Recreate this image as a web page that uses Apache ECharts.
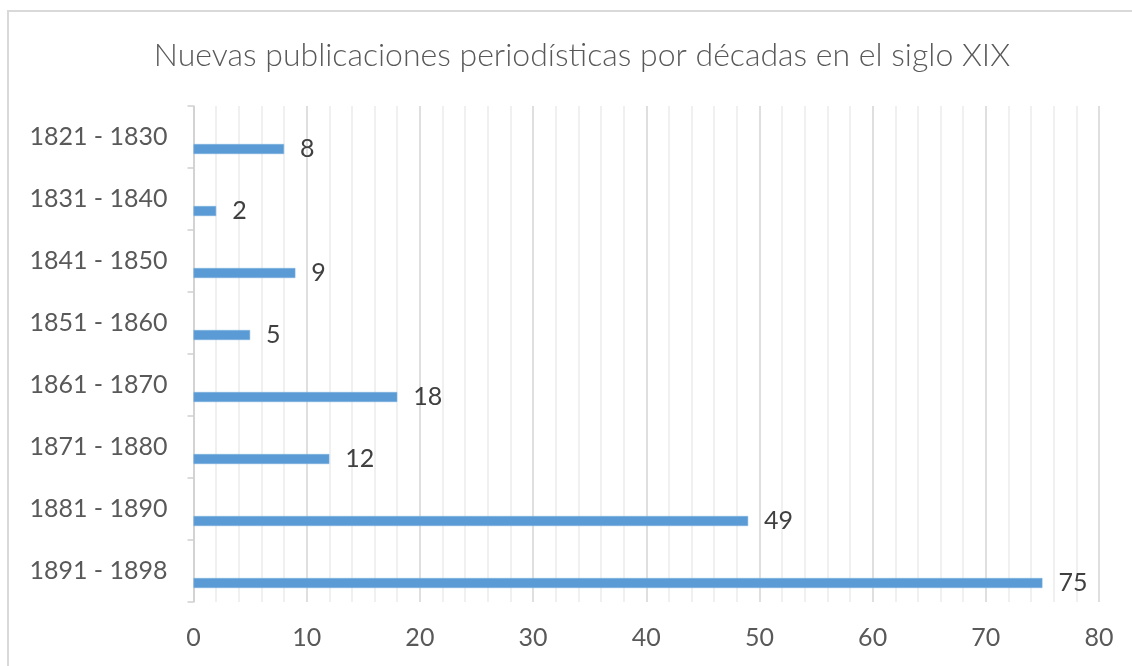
<!DOCTYPE html>
<html>
<head>
<meta charset="utf-8">
<script src="https://cdn.jsdelivr.net/npm/echarts@6/dist/echarts.min.js"></script>
<style>
  html, body { margin: 0; padding: 0; background: #fff; }
  #chart { width: 1132px; height: 666px; }
</style>
</head>
<body>
<div id="chart"></div>
<script>
// decades, top to bottom
const decades = [
  '1821 - 1830', '1831 - 1840', '1841 - 1850', '1851 - 1860',
  '1861 - 1870', '1871 - 1880', '1881 - 1890', '1891 - 1898'
];
// new periodical publications per decade
const publications = [8, 2, 9, 5, 18, 12, 49, 75];
const xTicks = [0, 10, 20, 30, 40, 50, 60, 70, 80];

const TEXT = '#595959';
const BAR = '#5b9bd5';

const chart = echarts.init(document.getElementById('chart'));

const option = {
  animation: false,
  textStyle: { fontFamily: 'Lato' },
  title: {
    text: 'Nuevas publicaciones periodísticas por décadas en el siglo XIX',
    left: 577,
    top: 35,
    textAlign: 'center',
    textStyle: { fontFamily: 'Lato', fontWeight: 300, fontSize: 32, color: TEXT }
  },
  // chart frame (cropped on the right and bottom, like the picture)
  graphic: [{
    type: 'rect',
    shape: { x: 8, y: 11, width: 1300, height: 900 },
    style: { fill: null, stroke: '#d9d9d9', lineWidth: 2 },
    silent: true,
    z: -10
  }],
  grid: { left: 193.5, right: 33, top: 106, bottom: 64, containLabel: false },
  xAxis: {
    type: 'value',
    min: xTicks[0],
    max: xTicks[xTicks.length - 1],
    interval: 10,
    axisLine: { show: false },
    axisTick: { show: false },
    axisLabel: { color: TEXT, fontSize: 25, margin: 23 },
    splitLine: { show: true, lineStyle: { color: '#d4d4d4', width: 1.5 } },
    minorTick: { show: false, splitNumber: 5 },
    minorSplitLine: { show: true, lineStyle: { color: '#ececec', width: 1.5 } }
  },
  yAxis: {
    type: 'category',
    data: decades,
    inverse: true,
    axisLine: { show: true, lineStyle: { color: '#cfcfcf', width: 1.5 } },
    axisTick: { show: true, length: 6, lineStyle: { color: '#cfcfcf', width: 1.5 } },
    axisLabel: { color: TEXT, fontSize: 25, margin: 26, padding: [0, 0, 6, 0] }
  },
  series: [
    {
      // empty slot: the visible bars sit in the lower half of each band
      name: 'vacío',
      type: 'bar',
      data: [],
      barWidth: 10,
      barGap: '140%'
    },
    {
      name: 'Publicaciones',
      type: 'bar',
      data: publications,
      barWidth: 10,
      barGap: '140%',
      itemStyle: { color: BAR, borderColor: '#7fb2e0', borderWidth: 0.5 },
      label: {
        show: true,
        position: 'right',
        distance: 16,
        color: '#404040',
        fontSize: 25
      }
    }
  ]
};

chart.setOption(option);
</script>
</body>
</html>
